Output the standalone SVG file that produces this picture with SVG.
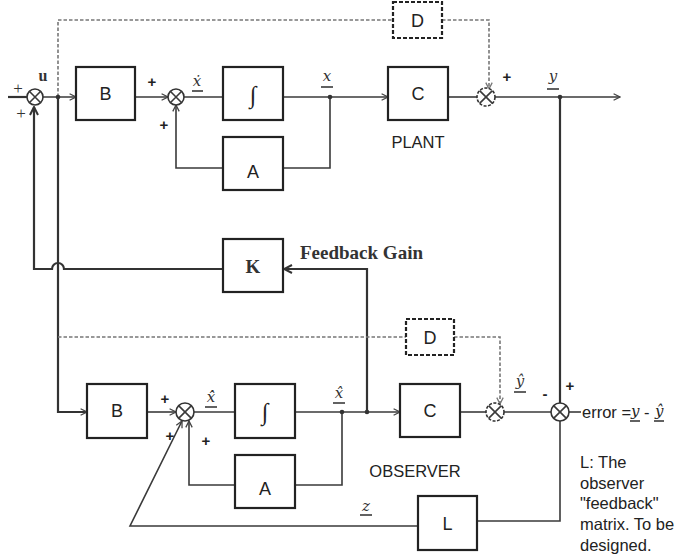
<svg xmlns="http://www.w3.org/2000/svg" width="679" height="560" viewBox="0 0 679 560">
<defs>
<style>
.ln{fill:none;stroke:#3a3a3a;stroke-width:1.6}
.thk{fill:none;stroke:#333;stroke-width:2.2}
.ds{fill:none;stroke:#777;stroke-width:1.6;stroke-dasharray:3.5,2}
.box{fill:#fff;stroke:#222;stroke-width:2.2}
.dbox{fill:#fff;stroke:#222;stroke-width:2.2;stroke-dasharray:4,2}
.sum{fill:#fff;stroke:#333;stroke-width:1.6}
.dsum{fill:#fff;stroke:#333;stroke-width:1.6;stroke-dasharray:3,1.5}
.bl{font-family:"Liberation Sans",Arial,sans-serif;font-size:18px;fill:#222;text-anchor:middle}
.sg{font-family:"Liberation Sans",Arial,sans-serif;font-size:15px;font-weight:bold;fill:#222;text-anchor:middle}
.pl{font-family:"Liberation Serif",serif;font-size:17px;fill:#333;text-anchor:middle}
.itg{font-family:"Liberation Serif",serif;font-size:24px;fill:#222;text-anchor:middle}
.var{font-family:"DejaVu Serif","Liberation Serif",serif;font-style:italic;font-size:15px;fill:#333;text-anchor:middle}
.iv{font-family:"DejaVu Serif","Liberation Serif",serif;font-style:italic;font-size:15px}
.bs{font-family:"Liberation Serif",serif;font-weight:bold;fill:#333}
.tx{font-family:"Liberation Sans",Arial,sans-serif;font-size:16.5px;fill:#222}
.dot{fill:#333}
</style>
<marker id="ar" viewBox="0 0 10 10" refX="9" refY="5" markerWidth="8" markerHeight="8" orient="auto" markerUnits="userSpaceOnUse">
<path d="M1,1 L9,5 L1,9" fill="none" stroke="#444" stroke-width="1.6"/>
</marker>
<marker id="ard" viewBox="0 0 10 10" refX="9" refY="5" markerWidth="8" markerHeight="8" orient="auto" markerUnits="userSpaceOnUse">
<path d="M1,1 L9,5 L1,9" fill="none" stroke="#777" stroke-width="1.6"/>
</marker>
<marker id="arb" viewBox="0 0 10 10" refX="9" refY="5" markerWidth="10" markerHeight="10" orient="auto" markerUnits="userSpaceOnUse">
<path d="M1,1 L9,5 L1,9" fill="none" stroke="#333" stroke-width="2"/>
</marker>
</defs>
<rect width="679" height="560" fill="#fff"/>

<g id="connectors">
<line class="thk" x1="8" y1="97" x2="27" y2="97"/>
<line class="ln" x1="43" y1="97" x2="76" y2="97" marker-end="url(#ar)"/>
<line class="ln" x1="135" y1="97" x2="168" y2="97" marker-end="url(#ar)"/>
<line class="ln" x1="184" y1="97" x2="223" y2="97"/>
<line class="ln" x1="283" y1="97" x2="388" y2="97" marker-end="url(#ar)"/>
<line class="ln" x1="448" y1="97" x2="477" y2="97"/>
<line class="ln" x1="495" y1="97" x2="620" y2="97" marker-end="url(#ar)"/>
<polyline class="ln" points="330,97 330,168 283,168"/>
<polyline class="ln" points="223,168 176,168 176,105" marker-end="url(#ar)"/>
<polyline class="ds" points="58,97 58,20 393,20"/>
<polyline class="ds" points="442,20 489,20 489,89" marker-end="url(#ard)"/>
<line class="thk" x1="560" y1="97" x2="560" y2="403"/>
<path class="thk" d="M223,269 H64 A6,6 0 0 0 52,269 H34 V107" marker-end="url(#arb)"/>
<polyline class="thk" points="58,97 58,412 87,412" marker-end="url(#ar)"/>
<polyline class="thk" points="367,412 367,269 284,269" marker-end="url(#arb)"/>
<line class="ln" x1="147" y1="412" x2="176" y2="412" marker-end="url(#ar)"/>
<line class="ln" x1="194" y1="412" x2="235" y2="412"/>
<line class="ln" x1="295" y1="412" x2="400" y2="412" marker-end="url(#ar)"/>
<line class="ln" x1="460" y1="412" x2="486" y2="412"/>
<line class="ln" x1="504" y1="412" x2="551" y2="412"/>
<line class="ln" x1="569" y1="412" x2="581" y2="412"/>
<polyline class="ln" points="342,412 342,485 295,485"/>
<polyline class="ln" points="235,485 189,485 189,421" marker-end="url(#ar)"/>
<polyline class="ln" points="560,421 560,521 477,521"/>
<polyline class="ln" points="418,526 130,526 182,421" marker-end="url(#ar)"/>
<polyline class="ds" points="58,337 406,337"/>
<polyline class="ds" points="454,337 500,337 500,404" marker-end="url(#ard)"/>
<circle class="dot" cx="58" cy="97" r="2.3"/>
<circle class="dot" cx="330" cy="97" r="2.3"/>
<circle class="dot" cx="560" cy="97" r="2.3"/>
<circle class="dot" cx="342" cy="412" r="2.3"/>
<circle class="dot" cx="367" cy="412" r="2.3"/>
</g>

<g id="sum1"><circle class="sum" cx="35" cy="97" r="8"/><path class="ln" d="M29.3,91.3 L40.7,102.7 M40.7,91.3 L29.3,102.7"/></g>
<g id="sum2"><circle class="sum" cx="176" cy="97" r="8"/><path class="ln" d="M170.3,91.3 L181.7,102.7 M181.7,91.3 L170.3,102.7"/></g>
<g id="sum3"><circle class="dsum" cx="486" cy="97" r="9"/><path class="ln" d="M479.6,90.6 L492.4,103.4 M492.4,90.6 L479.6,103.4"/></g>
<g id="sum4"><circle class="sum" cx="185" cy="412" r="9"/><path class="ln" d="M178.6,405.6 L191.4,418.4 M191.4,405.6 L178.6,418.4"/></g>
<g id="sum5"><circle class="dsum" cx="495" cy="412" r="9"/><path class="ln" d="M488.6,405.6 L501.4,418.4 M501.4,405.6 L488.6,418.4"/></g>
<g id="sum6"><circle class="sum" cx="560" cy="412" r="9"/><path class="ln" d="M553.6,405.6 L566.4,418.4 M566.4,405.6 L553.6,418.4"/></g>

<g id="B1"><rect class="box" x="76" y="67" width="59" height="53"/><text class="bl" x="105.5" y="100">B</text></g>
<g id="INT1"><rect class="box" x="223" y="67" width="60" height="53"/><text class="itg" x="253" y="103">∫</text></g>
<g id="C1"><rect class="box" x="388" y="67" width="60" height="53"/><text class="bl" x="418" y="100">C</text></g>
<g id="A1"><rect class="box" x="223" y="137" width="60" height="53"/><text class="bl" x="253" y="178">A</text></g>
<g id="D1"><rect class="dbox" x="393" y="2" width="49" height="36"/><text class="bl" x="417.5" y="27">D</text></g>
<g id="K"><rect class="box" x="223" y="239" width="60" height="53"/><text class="bs" x="253" y="273" font-size="19" text-anchor="middle">K</text></g>
<g id="B2"><rect class="box" x="87" y="384" width="60" height="54"/><text class="bl" x="117" y="417">B</text></g>
<g id="INT2"><rect class="box" x="235" y="384" width="60" height="54"/><text class="itg" x="265" y="420">∫</text></g>
<g id="A2"><rect class="box" x="235" y="455" width="60" height="53"/><text class="bl" x="265" y="495">A</text></g>
<g id="C2"><rect class="box" x="400" y="384" width="60" height="53"/><text class="bl" x="430" y="417">C</text></g>
<g id="D2"><rect class="dbox" x="406" y="319" width="48" height="36"/><text class="bl" x="430" y="344">D</text></g>
<g id="L"><rect class="box" x="418" y="496" width="59" height="54"/><text class="bl" x="447.5" y="530">L</text></g>

<g id="labels">
<text class="pl" x="18" y="94">+</text>
<text class="pl" x="21" y="119">+</text>
<text class="bs" x="43" y="81" font-size="16" text-anchor="middle">u</text>
<text class="sg" x="152" y="87">+</text>
<text class="sg" x="164" y="130">+</text>
<text class="var" x="197" y="86">ẋ</text><line class="ln" x1="192" y1="91" x2="203" y2="91"/>
<text class="var" x="327" y="81">x</text><line class="ln" x1="321" y1="87" x2="333" y2="87"/>
<text class="sg" x="507" y="82">+</text>
<text class="var" x="553" y="81">y</text><line class="ln" x1="547" y1="89" x2="559" y2="89"/>
<text class="tx" x="418" y="148" text-anchor="middle" font-size="17">PLANT</text>
<text class="bs" x="300" y="259" font-size="19">Feedback Gain</text>
<text class="sg" x="165" y="404">+</text>
<text class="sg" x="170" y="441">+</text>
<text class="sg" x="206" y="446">+</text>
<text class="var" x="211" y="402">x̂̇</text><line class="ln" x1="205" y1="407" x2="217" y2="407"/>
<text class="var" x="339" y="398">x̂</text><line class="ln" x1="333" y1="403" x2="345" y2="403"/>
<text class="var" x="520" y="386">ŷ</text><line class="ln" x1="514" y1="392" x2="526" y2="392"/>
<text class="sg" x="545" y="399">-</text>
<text class="sg" x="570" y="391">+</text>
<text class="tx" x="582" y="418" font-size="14">error =<tspan class="iv" x="631" y="416">y</tspan><tspan x="644" y="418">-</tspan><tspan class="iv" x="655" y="416">ŷ</tspan></text>
<line class="ln" x1="630" y1="421" x2="640" y2="421"/>
<line class="ln" x1="654" y1="421" x2="664" y2="421"/>
<text class="tx" x="415" y="477" text-anchor="middle" font-size="17">OBSERVER</text>
<text class="var" x="366" y="511">z</text><line class="ln" x1="360" y1="515" x2="372" y2="515"/>
<text class="tx" x="580" y="468">L: The</text>
<text class="tx" x="580" y="489">observer</text>
<text class="tx" x="580" y="509">"feedback"</text>
<text class="tx" x="580" y="530">matrix. To be</text>
<text class="tx" x="580" y="551">designed.</text>
</g>
</svg>
